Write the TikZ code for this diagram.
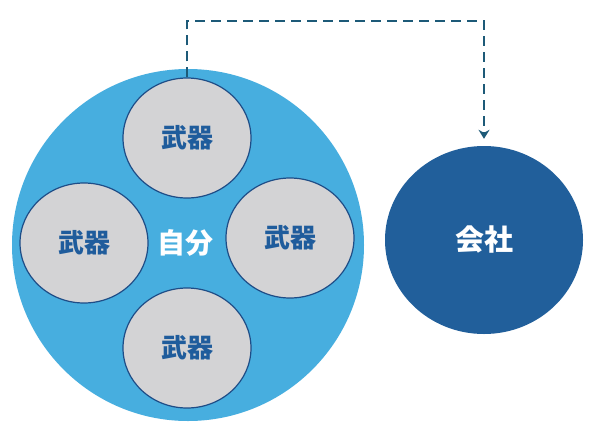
\documentclass[tikz,border=0pt]{standalone}
\usepackage{fontspec}
\newfontfamily\cjk{Noto Sans CJK JP}
\usepackage{tikz}
\usetikzlibrary{arrows.meta,shapes.geometric}
\definecolor{selfblue}{HTML}{47AEDF}
\definecolor{firmblue}{HTML}{215F9B}
\definecolor{weapongray}{HTML}{D3D3D5}
\definecolor{weaponline}{HTML}{1E4D87}
\definecolor{textblue}{HTML}{1F5C9C}
\definecolor{linkteal}{HTML}{1D5A78}
\tikzset{
	weapon/.style={ellipse, fill=weapongray, draw=weaponline, line width=1.2pt, minimum width=128, minimum height=120, text=textblue, font=\cjk\bfseries\fontsize{26}{26}\selectfont},
	link/.style={draw=linkteal, line width=2pt, dash pattern=on 10pt off 6pt, -{Stealth[length=9pt,width=11pt,inset=3pt]}}
}
\begin{document}
\begin{tikzpicture}[x=1pt, y=-1pt]
			%%%%% START %%%%%
			
			\useasboundingbox[fill=white] (0, 0) rectangle (594, 437);
			
			\node[circle, fill=selfblue, minimum size=352] (self) at (188, 245) {};
			\node[text=white, font=\cjk\bfseries\fontsize{28}{28}\selectfont] (selflabel) at (185, 243) {自分};
			
			\node[weapon] (wtop) at (187, 138) {武器};
			\node[weapon] (wleft) at (84, 243) {武器};
			\node[weapon] (wright) at (290, 238) {武器};
			\node[weapon] (wbottom) at (187, 348) {武器};
			
			\node[ellipse, fill=firmblue, minimum width=198, minimum height=188, text=white, font=\cjk\bfseries\fontsize{29}{29}\selectfont] (firm) at (484, 240) {会社};
			
			\draw[link, shorten >=7pt] (wtop.north) -- ++(0, -56) -| (firm.north);
			
			%%%%% END %%%%%
		\end{tikzpicture}
\end{document}
